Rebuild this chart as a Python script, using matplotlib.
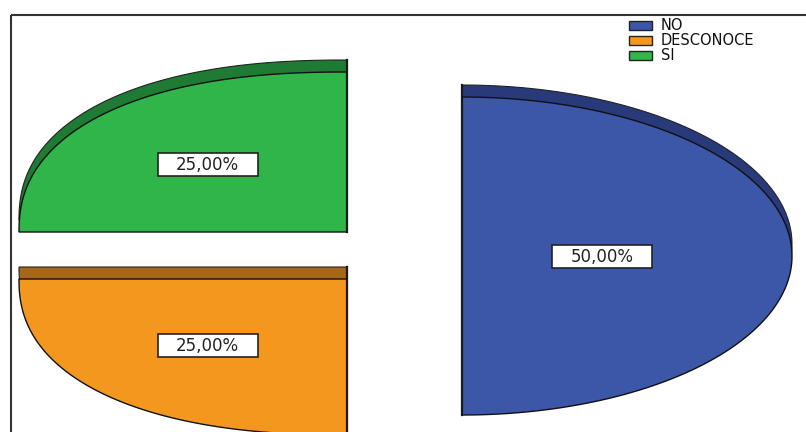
import numpy as np
import matplotlib.pyplot as plt
from matplotlib.patches import Polygon, Rectangle

# share of answers per category, drawn clockwise from 12 o'clock
categories = ['NO', 'DESCONOCE', 'SI']
percents = [50.0, 25.0, 25.0]

face_colors = ['#3c56a8', '#f4971f', '#2fb54a']
side_colors = ['#283a7a', '#a8661a', '#1f7a33']

# exploded slice centres (pixel coords), radii and rim roundness per slice
centres = [(462, 256), (347, 279), (347, 232)]
radii = [(330, 159), (328, 156), (328, 160)]
roundness = [2.0, 2.3, 2.3]
depth = 12


def slice_poly(cx, cy, rx, ry, k, t1, t2, n=240):
    t = np.radians(np.linspace(t1, t2, n))
    c, s = np.cos(t), np.sin(t)
    xs = cx + rx * np.sign(c) * np.abs(c) ** (2 / k)
    ys = cy - ry * np.sign(s) * np.abs(s) ** (2 / k)
    xs = np.concatenate([[cx], xs, [cx]])
    ys = np.concatenate([[cy], ys, [cy]])
    return np.column_stack([xs, ys])


fig = plt.figure(figsize=(8.06, 4.32), dpi=100)
ax = fig.add_axes([0, 0, 1, 1])
ax.set_xlim(0, 806)
ax.set_ylim(432, 0)
ax.axis('off')

# chart frame
ax.add_patch(Rectangle((11, 15), 820, 440, fill=False, ec='#333333', lw=1.5, zorder=1))

start = 90.0
for p, fc, sc, (cx, cy), (rx, ry), k in zip(percents, face_colors, side_colors,
                                             centres, radii, roundness):
    t1 = start
    t2 = start - p * 3.6
    start = t2
    side = slice_poly(cx, cy - depth, rx, ry, k, t2, t1)
    face = slice_poly(cx, cy, rx, ry, k, t2, t1)
    # side wall of the slice, then the top face
    ax.add_patch(Polygon(side, closed=True, fc=sc, ec='#222222', lw=0.8, zorder=2))
    ax.add_patch(Polygon(face, closed=True, fc=fc, ec='#111111', lw=1.0, zorder=3))

    # dark vertical cut edge
    pts = np.vstack([side, face])
    on_cut = np.isclose(pts[:, 0], cx, atol=0.5)
    ax.plot([cx, cx], [pts[on_cut, 1].min(), pts[on_cut, 1].max()],
            color='#1a1a1a', lw=1.6, zorder=3.5)

    # value label at the slice centroid
    half = np.radians(p * 3.6) / 2
    r = 2 * np.sin(half) / (3 * half)
    mid = np.radians((t1 + t2) / 2)
    lx = cx + r * rx * np.cos(mid)
    ly = cy - r * ry * np.sin(mid)
    ax.add_patch(Rectangle((lx - 50, ly - 11.5), 100, 23, fc='white',
                           ec='#222222', lw=1.2, zorder=4))
    ax.text(lx, ly + 0.5, f'{p:.2f}%'.replace('.', ','), ha='center', va='center',
            fontsize=12, family='DejaVu Sans', color='#222222', zorder=5)

# legend
for i, (cat, fc) in enumerate(zip(categories, face_colors)):
    y = 21 + i * 15
    ax.add_patch(Rectangle((629, y), 23, 9, fc=fc, ec='#222222', lw=1.0, zorder=4))
    ax.text(661, y + 4.5, cat, ha='left', va='center', fontsize=10.5,
            family='DejaVu Sans', color='#111111', zorder=5)

fig.savefig('out.png', dpi=100)
